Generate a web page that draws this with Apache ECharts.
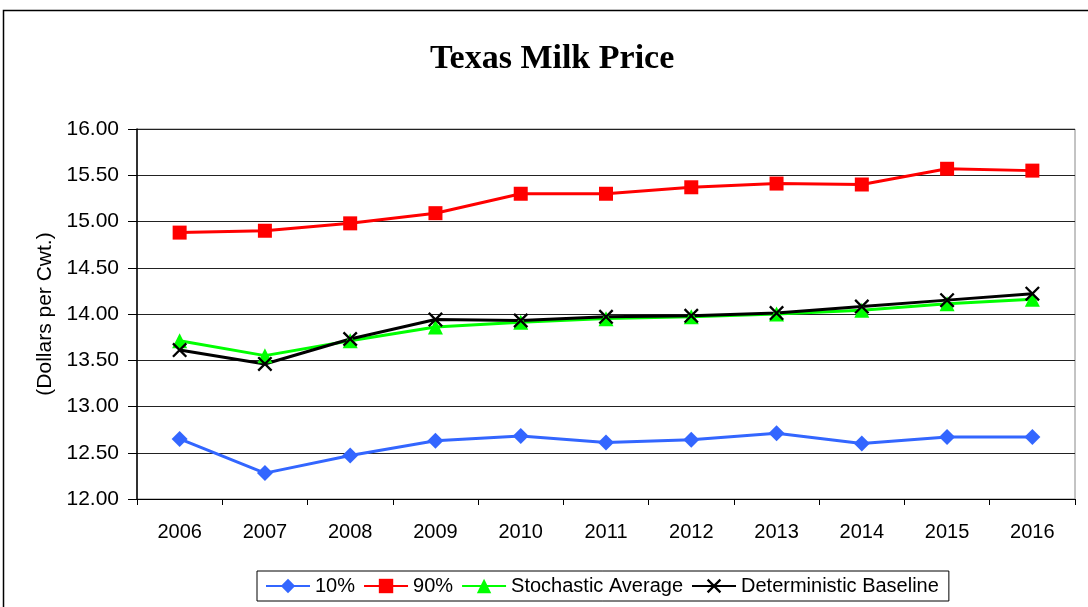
<!DOCTYPE html>
<html>
<head>
<meta charset="utf-8">
<script src="https://cdn.jsdelivr.net/npm/echarts@6/dist/echarts.min.js"></script>
<style>
html,body{margin:0;padding:0;background:#fff;}
#chart{width:1088px;height:607px;}
</style>
</head>
<body>
<div id="chart"></div>
<script>
var years = ['2006','2007','2008','2009','2010','2011','2012','2013','2014','2015','2016'];
var p10 = [12.65, 12.28, 12.47, 12.63, 12.68, 12.61, 12.64, 12.71, 12.60, 12.67, 12.67];
var p90 = [14.88, 14.90, 14.98, 15.09, 15.30, 15.30, 15.37, 15.41, 15.40, 15.57, 15.55];
var stochAvg = [13.71, 13.55, 13.71, 13.86, 13.91, 13.95, 13.97, 14.00, 14.04, 14.11, 14.16];
var detBase = [13.61, 13.46, 13.73, 13.94, 13.93, 13.97, 13.98, 14.01, 14.08, 14.15, 14.22];
var seriesNames = ['10%', '90%', 'Stochastic Average', 'Deterministic Baseline'];

var xSymbol = 'path://M0,1.1L1.1,0L10,8.9L8.9,10Z M8.9,0L10,1.1L1.1,10L0,8.9Z';

var chart = echarts.init(document.getElementById('chart'));
var font = 'Liberation Sans, Arial, sans-serif';
chart.setOption({
  animation: false,
  backgroundColor: '#fff',
  graphic: [{
    type: 'rect',
    shape: {x: 3.5, y: 10.5, width: 1090, height: 620},
    style: {fill: 'none', stroke: '#000', lineWidth: 1.5},
    silent: true
  }],
  title: {
    text: 'Texas Milk Price',
    left: 425,
    top: 37,
    textStyle: {fontFamily: 'Liberation Serif, Times New Roman, serif', fontWeight: 'bold', fontSize: 34, color: '#000'}
  },
  legend: {
    bottom: 6,
    left: 257,
    itemWidth: 44,
    itemHeight: 18,
    itemGap: 8,
    padding: [5, 10, 5, 8],
    borderColor: '#000',
    borderWidth: 1,
    textStyle: {fontFamily: font, fontSize: 20, color: '#000'},
    data: seriesNames
  },
  grid: {left: 137, right: 13, top: 129, bottom: 108, show: true, borderColor: '#888', borderWidth: 1},
  xAxis: {
    type: 'category',
    data: years,
    boundaryGap: true,
    axisLine: {lineStyle: {color: '#000', width: 1}},
    axisTick: {show: true, length: 6, inside: false, alignWithLabel: false, lineStyle: {color: '#000'}},
    axisLabel: {fontFamily: font, fontSize: 20, color: '#000', margin: 23},
    splitLine: {show: false}
  },
  yAxis: {
    type: 'value',
    min: 12,
    max: 16,
    interval: 0.5,
    name: '(Dollars per Cwt.)',
    nameLocation: 'middle',
    nameGap: 80,
    nameRotate: 90,
    nameTextStyle: {fontFamily: font, fontSize: 21, color: '#000'},
    axisLine: {show: true, lineStyle: {color: '#000', width: 1.5}},
    axisTick: {show: true, length: 9, lineStyle: {color: '#000'}},
    axisLabel: {fontFamily: font, fontSize: 21, color: '#000', margin: 18, formatter: function(v){return v.toFixed(2);}},
    splitLine: {show: true, lineStyle: {color: '#222', width: 1}}
  },
  series: [
    {name: seriesNames[0], type: 'line', data: p10, symbol: 'diamond', symbolSize: 16,
     lineStyle: {color: '#3366FF', width: 3}, itemStyle: {color: '#3366FF'}},
    {name: seriesNames[1], type: 'line', data: p90, symbol: 'rect', symbolSize: 14,
     lineStyle: {color: '#FF0000', width: 3}, itemStyle: {color: '#FF0000'}},
    {name: seriesNames[2], type: 'line', data: stochAvg, symbol: 'triangle', symbolSize: 15,
     lineStyle: {color: '#00FF00', width: 3}, itemStyle: {color: '#00FF00'}},
    {name: seriesNames[3], type: 'line', data: detBase, symbol: xSymbol, symbolSize: 15,
     lineStyle: {color: '#000000', width: 3}, itemStyle: {color: '#000000'}}
  ]
});
</script>
</body>
</html>
